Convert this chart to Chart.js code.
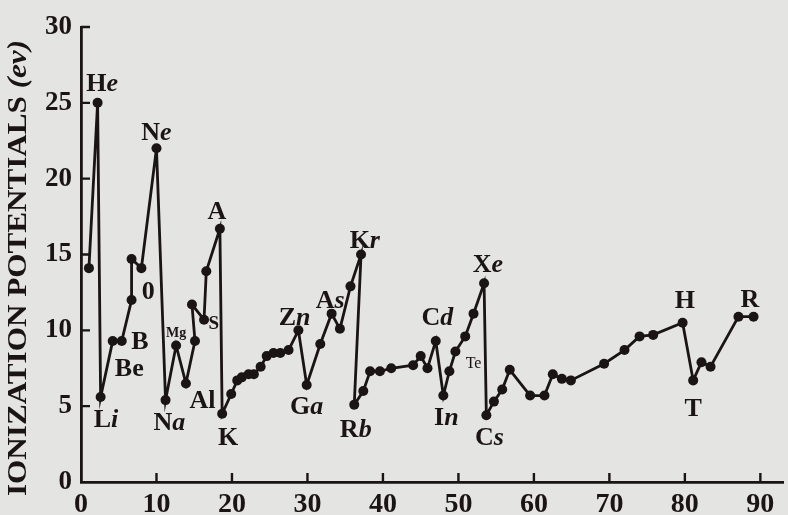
<!DOCTYPE html>
<html>
<head>
<meta charset="utf-8">
<script src="https://cdn.jsdelivr.net/npm/chart.js@4.4.0/dist/chart.umd.min.js"></script>
<style>
  html, body { margin: 0; padding: 0; background: #e4e4e2; }
</style>
</head>
<body>
<canvas id="ipChart" width="788" height="515"></canvas>
<script>
// atomic number and first ionization potential (eV)
const atomicNumbers = [
  1.05, 2.2, 2.6, 4.2, 5.4, 6.7, 6.7, 8.0, 10.0, 11.2,
  12.6, 13.9, 15.1, 14.7, 16.3, 16.6, 18.4, 18.7, 19.9, 20.7,
  21.3, 22.2, 22.9, 23.8, 24.6, 25.5, 26.4, 27.5, 28.8, 29.9,
  31.7, 33.2, 34.3, 35.7, 37.1, 36.2, 37.4, 38.3, 39.6, 41.1,
  44.0, 45.0, 45.9, 47.0, 48.0, 48.8, 49.6, 50.9, 52.0, 53.4,
  53.7, 54.7, 55.8, 56.8, 59.5, 61.4, 62.5, 63.7, 64.9, 69.3,
  72.0, 74.0, 75.8, 79.7, 81.1, 82.2, 83.4, 87.1, 89.1
];
const potentials = [
  14.1, 25.0, 5.6, 9.3, 9.3, 12.0, 14.7, 14.1, 22.0, 5.4,
  9.0, 6.5, 9.3, 11.7, 10.7, 13.9, 16.7, 4.5, 5.8, 6.7,
  6.9, 7.1, 7.1, 7.6, 8.3, 8.5, 8.5, 8.7, 10.0, 6.4,
  9.1, 11.1, 10.1, 12.9, 15.0, 5.1, 6.0, 7.3, 7.3, 7.5,
  7.7, 8.3, 7.5, 9.3, 5.7, 7.3, 8.6, 9.6, 11.1, 13.1,
  4.4, 5.3, 6.1, 7.4, 5.7, 5.7, 7.1, 6.8, 6.7, 7.8,
  8.7, 9.6, 9.7, 10.5, 6.7, 7.9, 7.6, 10.9, 10.9
];

const xTicks = [0, 10, 20, 30, 40, 50, 60, 70, 80, 90];
const yTicks = [0, 5, 10, 15, 20, 25, 30];

// element names written next to the curve
const labelText = ['He', 'Ne', 'Li', 'Be', 'B', '0', 'Mg', 'S', 'A', 'Na', 'Al', 'K',
  'Zn', 'As', 'Kr', 'Ga', 'Rb', 'Cd', 'Xe', 'In', 'Te', 'Cs', 'H', 'T', 'R'];
const labelItalicFrom = [1, 1, 1, -1, -1, -1, -1, -1, -1, 1, -1, -1,
  1, 1, 1, 1, 1, 1, 1, 1, -1, 1, -1, -1, -1];
const labelAtX = [2.8, 10.0, 3.3, 6.4, 7.8, 8.9, 12.6, 17.6, 18.0, 11.7, 16.1, 19.5,
  28.3, 33.0, 37.6, 29.9, 36.4, 47.2, 53.9, 48.4, 52.0, 54.1, 80.0, 81.1, 88.6];
const labelAtY = [26.2, 23.0, 4.1, 7.4, 9.2, 12.5, 9.8, 10.4, 17.8, 3.9, 5.3, 2.9,
  10.8, 11.9, 15.9, 4.9, 3.4, 10.8, 14.3, 4.2, 7.8, 2.9, 11.9, 4.8, 12.0];
const labelSize = [26, 26, 26, 26, 26, 26, 14, 19, 26, 26, 26, 26,
  26, 26, 26, 26, 26, 26, 26, 26, 16, 26, 26, 26, 26];

const yTitle = 'IONIZATION POTENTIALS ';
const yTitleUnit = '(ev)';

const ink = '#1a1414';
const serif = '"Liberation Serif", "DejaVu Serif", serif';

const decor = {
  id: 'decor',
  beforeDraw(chart) {
    const c = chart.ctx;
    c.save();
    c.fillStyle = '#e4e4e2';
    c.fillRect(0, 0, chart.width, chart.height);
    c.restore();
  },
  afterDraw(chart) {
    const c = chart.ctx;
    const x = chart.scales.x, y = chart.scales.y;
    c.save();
    c.strokeStyle = ink;
    c.fillStyle = ink;
    c.lineWidth = 2.4;

    // tick marks point inward
    c.beginPath();
    yTicks.forEach(v => {
      if (v === 0) return;
      const py = y.getPixelForValue(v);
      c.moveTo(x.left, py);
      c.lineTo(x.left + 9, py);
    });
    xTicks.forEach(v => {
      if (v === 0) return;
      const px = x.getPixelForValue(v);
      c.moveTo(px, y.bottom);
      c.lineTo(px, y.bottom - 9);
    });
    c.stroke();

    // element labels
    c.textBaseline = 'middle';
    c.textAlign = 'left';
    labelText.forEach((txt, i) => {
      const size = labelSize[i];
      const k = labelItalicFrom[i];
      const parts = k < 0 ? [[txt, false]] : [[txt.slice(0, k), false], [txt.slice(k), true]];
      const weight = labelText[i] === 'Te' ? 'normal' : 'bold';
      let total = 0;
      parts.forEach(p => {
        c.font = (p[1] ? 'italic ' : '') + weight + ' ' + size + 'px ' + serif;
        p.push(c.measureText(p[0]).width);
        total += p[2];
      });
      let px = x.getPixelForValue(labelAtX[i]) - total / 2;
      const py = y.getPixelForValue(labelAtY[i]);
      parts.forEach(p => {
        c.font = (p[1] ? 'italic ' : '') + weight + ' ' + size + 'px ' + serif;
        c.fillText(p[0], px, py);
        px += p[2];
      });
    });

    // rotated y axis title
    c.translate(19, 268);
    c.rotate(-Math.PI / 2);
    c.font = 'bold 28px ' + serif;
    const w1 = c.measureText(yTitle).width;
    c.font = 'italic bold 28px ' + serif;
    const w2 = c.measureText(yTitleUnit).width;
    const stretch = 456 / (w1 + w2);
    c.scale(stretch, 1);
    c.textBaseline = 'middle';
    c.textAlign = 'left';
    const start = -(w1 + w2) / 2;
    c.font = 'bold 28px ' + serif;
    c.fillText(yTitle, start, 0);
    c.font = 'italic bold 28px ' + serif;
    c.fillText(yTitleUnit, start + w1, 0);
    c.restore();
  }
};

new Chart(document.getElementById('ipChart').getContext('2d'), {
  type: 'scatter',
  data: {
    datasets: [{
      data: atomicNumbers.map((z, i) => ({ x: z, y: potentials[i] })),
      showLine: true,
      borderColor: ink,
      borderWidth: 2.8,
      pointRadius: 5,
      pointBackgroundColor: ink,
      pointBorderWidth: 0,
      tension: 0
    }]
  },
  options: {
    responsive: false,
    animation: false,
    devicePixelRatio: 1,
    layout: { padding: { top: 27, right: 0, bottom: 0, left: 0 } },
    plugins: {
      legend: { display: false },
      tooltip: { enabled: false }
    },
    scales: {
      x: {
        type: 'linear',
        min: 0,
        max: 93,
        afterBuildTicks: s => { s.ticks = xTicks.map(v => ({ value: v })); },
        afterFit: s => { s.height = 33; },
        grid: { display: false, drawTicks: false },
        border: { display: true, color: ink, width: 2.8 },
        ticks: {
          padding: 6,
          color: ink,
          maxRotation: 0,
          font: { family: serif, size: 28, weight: 'bold' }
        }
      },
      y: {
        min: 0,
        max: 30,
        afterBuildTicks: s => { s.ticks = yTicks.map(v => ({ value: v })); },
        afterFit: s => { s.width = 81; },
        grid: { display: false, drawTicks: false },
        border: { display: true, color: ink, width: 2.8 },
        ticks: {
          padding: 9,
          color: ink,
          font: { family: serif, size: 27, weight: 'bold' }
        }
      }
    }
  },
  plugins: [decor]
});
</script>
</body>
</html>
